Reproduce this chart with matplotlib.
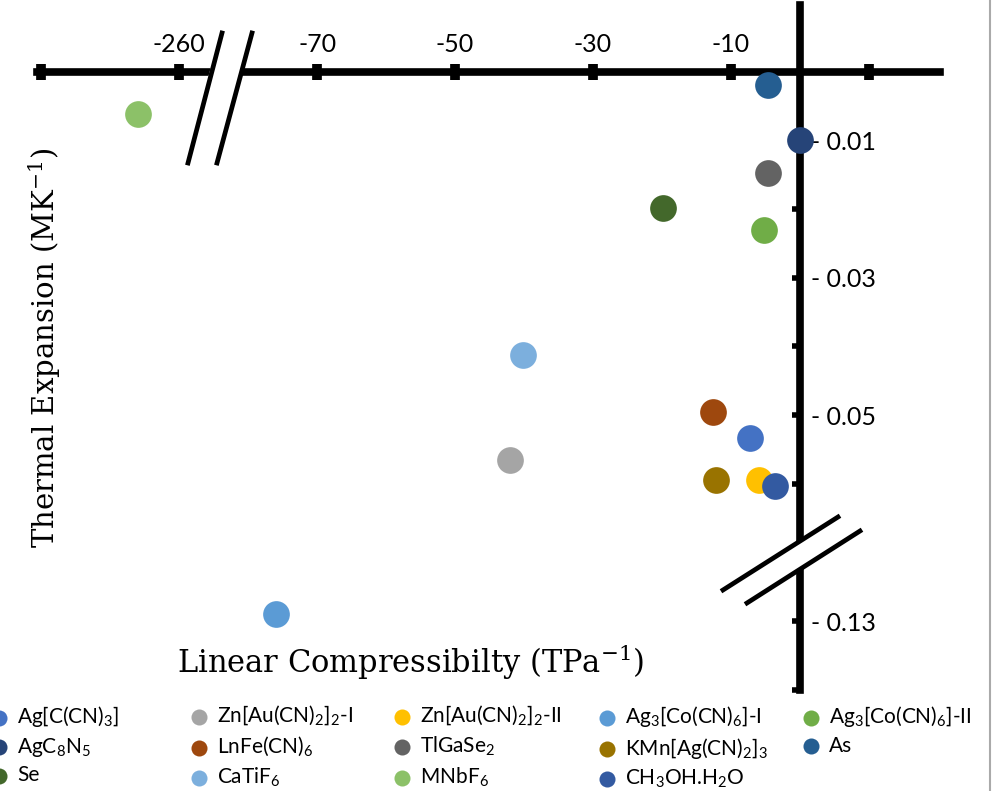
import numpy as np
import matplotlib
matplotlib.use('Agg')
import matplotlib.pyplot as plt
from matplotlib.lines import Line2D
from matplotlib.patches import Polygon

# Data (linear compressibility in TPa^-1, thermal expansion in MK^-1)
names = ['Ag[C(CN)$_{\\mathregular{3}}$]',
         'Zn[Au(CN)$_{\\mathregular{2}}$]$_{\\mathregular{2}}$-I',
         'Zn[Au(CN)$_{\\mathregular{2}}$]$_{\\mathregular{2}}$-II',
         'Ag$_{\\mathregular{3}}$[Co(CN)$_{\\mathregular{6}}$]-I',
         'Ag$_{\\mathregular{3}}$[Co(CN)$_{\\mathregular{6}}$]-II',
         'AgC$_{\\mathregular{8}}$N$_{\\mathregular{5}}$',
         'LnFe(CN)$_{\\mathregular{6}}$',
         'TlGaSe$_{\\mathregular{2}}$',
         'KMn[Ag(CN)$_{\\mathregular{2}}$]$_{\\mathregular{3}}$',
         'As',
         'Se',
         'CaTiF$_{\\mathregular{6}}$',
         'MNbF$_{\\mathregular{6}}$',
         'CH$_{\\mathregular{3}}$OH.H$_{\\mathregular{2}}$O']
compress = [-7.2, -42.0, -5.9, -75.9, -5.2, 0.0, -12.6, -4.6, -12.2, -4.6, -19.9, -40.1, -266.0, -3.6]
expansion = [0.0533, 0.0565, 0.0594, 0.129, 0.023, 0.0099, 0.0496, 0.0148, 0.0594, 0.002, 0.0199, 0.0413, 0.0061, 0.0603]
colors = ['#4472C4', '#A5A5A5', '#FFC000', '#5B9BD5', '#70AD47', '#264478', '#9E480E',
          '#636363', '#997300', '#255E91', '#43682B', '#7CAFDD', '#8CC168', '#335AA1']

xticks = [-280, -260, -70, -50, -30, -10, 10]
xlabels = ['', '-260', '-70', '-50', '-30', '-10', '']
yticks = [0.01, 0.02, 0.03, 0.04, 0.05, 0.06, 0.13, 0.14]
ylabels = ['- 0.01', '', '- 0.03', '', '- 0.05', '', '- 0.13', '']

# legend columns (Excel lays the entries out row by row)
legend_cols = [[0, 5, 10], [1, 6, 11], [2, 7, 12], [3, 8, 13], [4, 9]]


# broken axes: collapse the empty gaps
def xfwd(x):
    x = np.asarray(x, float)
    return np.where(x >= -85, x, np.where(x <= -255, x + 170, -85))


def xinv(p):
    p = np.asarray(p, float)
    return np.where(p >= -85, p, p - 170)


def yfwd(y):
    y = np.asarray(y, float)
    return np.where(y <= 0.07, y, np.where(y >= 0.12, y - 0.05, 0.07))


def yinv(p):
    p = np.asarray(p, float)
    return np.where(p <= 0.07, p, p + 0.05)


W, H = 992, 791
fig = plt.figure(figsize=(W / 100, H / 100), dpi=100)
ax = fig.add_axes([37 / W, 1 - 690 / H, 903 / W, 685 / H])
ax.set_xscale('function', functions=(xfwd, xinv))
ax.set_yscale('function', functions=(yfwd, yinv))
ax.set_xlim(-280.6, 20.3)
ax.set_ylim(0.1396, -0.0097)
ax.patch.set_visible(False)

for i in range(len(names)):
    ax.scatter(compress[i], expansion[i], s=370, color=colors[i], label=names[i],
               zorder=5, linewidths=0)

ax.spines['left'].set_visible(False)
ax.spines['bottom'].set_visible(False)
ax.spines['top'].set_position(('data', 0))
ax.spines['right'].set_position(('data', 0))
ax.spines['top'].set_linewidth(5.5)
ax.spines['right'].set_linewidth(5.5)

tickfont = 'Lato'
ax.xaxis.tick_top()
ax.set_xticks(xticks)
ax.set_xticklabels(xlabels)
ax.xaxis.set_minor_locator(matplotlib.ticker.NullLocator())
ax.tick_params(axis='x', direction='inout', length=12, width=7, pad=5,
               labelsize=18)
ax.yaxis.tick_right()
ax.set_yticks(yticks)
ax.set_yticklabels(ylabels)
ax.yaxis.set_minor_locator(matplotlib.ticker.NullLocator())
ax.tick_params(axis='y', direction='in', length=6, width=4, pad=8, labelsize=18)
for lab in ax.get_xticklabels() + ax.get_yticklabels():
    lab.set_family(tickfont)


# break marks, in pixel positions of the figure
def px(x, y):
    return (x / W, 1 - y / H)


def brk(p1, p2, p3, p4, gap):
    fig.patches.append(Polygon([px(*g) for g in gap], closed=True, color='white',
                               transform=fig.transFigure, zorder=3))
    for a, b in ((p1, p2), (p3, p4)):
        (x1, y1), (x2, y2) = px(*a), px(*b)
        fig.lines.append(Line2D([x1, x2], [y1, y2], color='black', lw=3.4,
                                transform=fig.transFigure, zorder=4))


brk((188, 163), (222, 33), (217, 163), (252, 33),
    [(206, 88), (214, 58), (246, 58), (238, 88)])
brk((723, 590), (838, 517), (747, 603), (860, 531),
    [(789, 548), (811, 534), (811, 563), (789, 577)])

# axis titles
fig.text(45 / W, 1 - 348 / H, 'Thermal Expansion (MK$^{\\mathregular{-1}}$)', rotation=90,
         ha='center', va='center', family='DejaVu Serif', fontsize=21)
fig.text(411 / W, 1 - 662 / H, 'Linear Compressibilty (TPa$^{\\mathregular{-1}}$)',
         ha='center', va='center', family='DejaVu Serif', fontsize=22)

# legend, one block per column so the columns sit on an even grid
handles, labels = ax.get_legend_handles_labels()
col_x = [-9, 191, 394, 599, 803]
for cx, idx in zip(col_x, legend_cols):
    fig.legend([handles[i] for i in idx], [labels[i] for i in idx],
               loc='upper left', bbox_to_anchor=(cx / W, 1 - 704 / H),
               frameon=False, markerscale=0.6, handlelength=0.8,
               handletextpad=0.45, labelspacing=0.32, borderpad=0,
               borderaxespad=0, prop={'family': 'Lato', 'size': 15})

# frame edge at the right
fig.lines.append(Line2D([990 / W, 990 / W], [0, 1], color='#aaaaaa', lw=1.5,
                        transform=fig.transFigure))

fig.savefig('out.png', dpi=100)
